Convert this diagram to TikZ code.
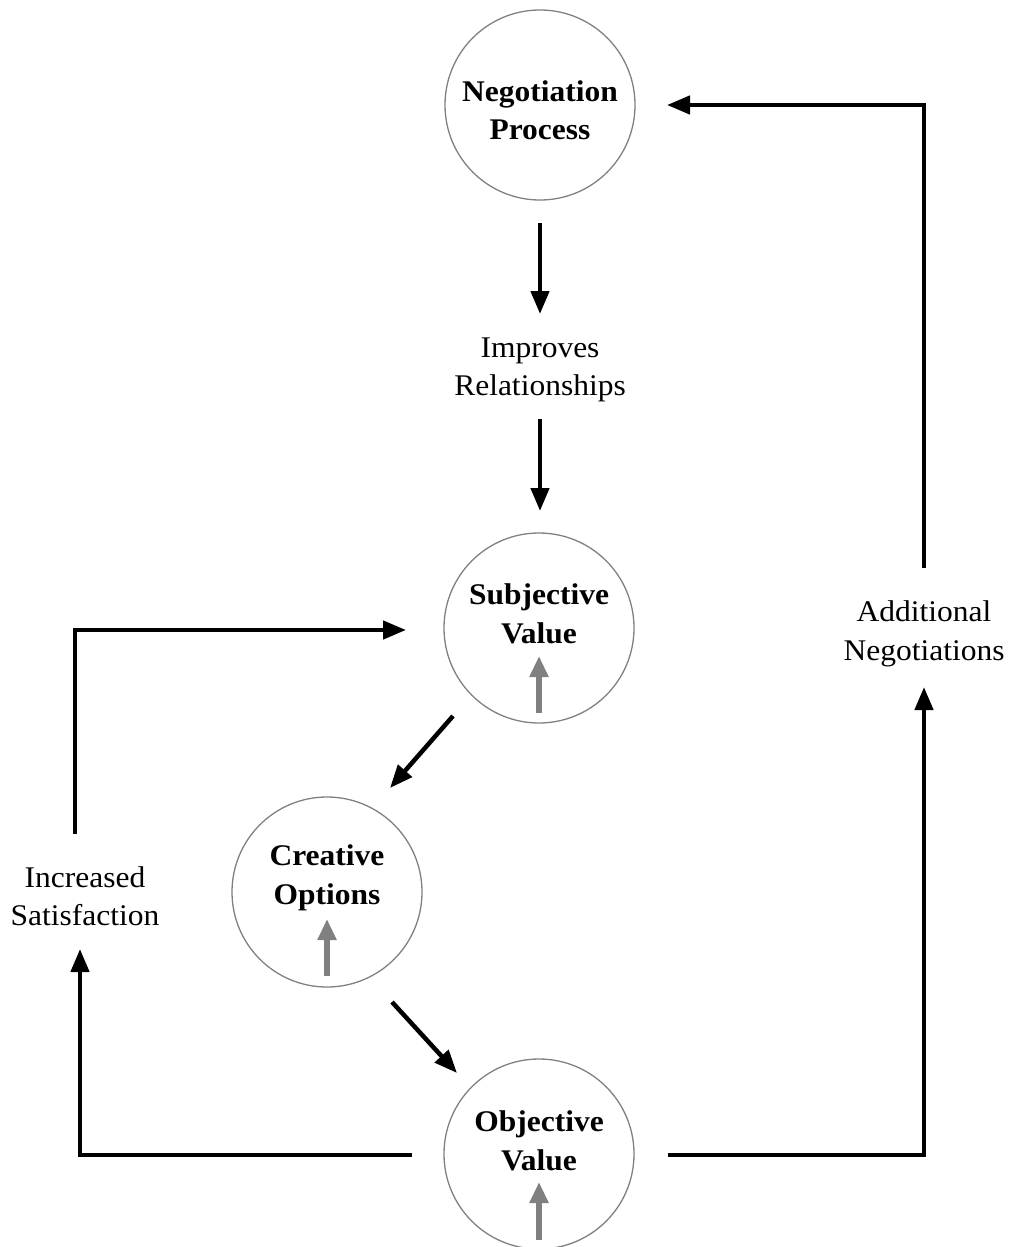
\documentclass[tikz,border=0pt]{standalone}
\usepackage{fontspec}
\setmainfont{Liberation Serif}[FakeStretch=1.05]
\usetikzlibrary{arrows.meta}
\begin{document}
\begin{tikzpicture}[x=1pt,y=-1pt,
  circ/.style={circle,draw=black!50,line width=1.3pt,minimum size=190pt,inner sep=0pt},
  ttl/.style={align=center,font=\fontsize{30}{38.5}\selectfont\bfseries},
  lbl/.style={align=center,font=\fontsize{30}{38.5}\selectfont},
  conn/.style={line width=4.5pt,-{Triangle[length=23pt,width=18pt]}},
  up/.style={draw=black!50,line width=5.5pt,-{Triangle[length=21pt,width=18pt]}}]
\useasboundingbox (0,0) rectangle (1012,1247);
% circles
\node[circ] (np) at (540,105) {};
\node[circ] (sv) at (539,628) {};
\node[circ] (co) at (327,892) {};
\node[circ] (ov) at (539,1154) {};
% titles
\node[ttl] (npt) at (540,110) {Negotiation\\Process};
\node[ttl] (svt) at (539,614) {Subjective\\Value};
\node[ttl] (cot) at (327,878) {Creative\\Options};
\node[ttl] (ovt) at (539,1141) {Objective\\Value};
% gray up arrows
\coordinate (sva) at (539,713); \coordinate (svb) at (539,656);
\coordinate (coa) at (327,976); \coordinate (cob) at (327,919);
\coordinate (ova) at (539,1240); \coordinate (ovb) at (539,1182);
\draw[up] (sva) -- (svb);
\draw[up] (coa) -- (cob);
\draw[up] (ova) -- (ovb);
% labels
\node[lbl] (ir) at (540,370) {Improves\\Relationships};
\node[lbl] (is) at (85,896) {Increased\\Satisfaction};
\node[lbl] (an) at (924,634) {Additional\\Negotiations};
% connector points
\coordinate (a1) at (540,223); \coordinate (a2) at (540,314);
\coordinate (b1) at (540,419); \coordinate (b2) at (540,511);
\coordinate (c1) at (453,716); \coordinate (c2) at (390,788);
\coordinate (d1) at (392,1002); \coordinate (d2) at (457,1073);
\coordinate (e1) at (412,1155); \coordinate (e2) at (80,1155); \coordinate (e3) at (80,949);
\coordinate (f1) at (75,834); \coordinate (f2) at (75,630); \coordinate (f3) at (406,630);
\coordinate (g1) at (668,1155); \coordinate (g2) at (924,1155); \coordinate (g3) at (924,687);
\coordinate (h1) at (924,568); \coordinate (h2) at (924,105); \coordinate (h3) at (667,105);
\draw[conn] (a1) -- (a2);
\draw[conn] (b1) -- (b2);
\draw[conn] (c1) -- (c2);
\draw[conn] (d1) -- (d2);
\draw[conn] (e1) -- (e2) -- (e3);
\draw[conn] (f1) -- (f2) -- (f3);
\draw[conn] (g1) -- (g2) -- (g3);
\draw[conn] (h1) -- (h2) -- (h3);
\end{tikzpicture}
\end{document}
